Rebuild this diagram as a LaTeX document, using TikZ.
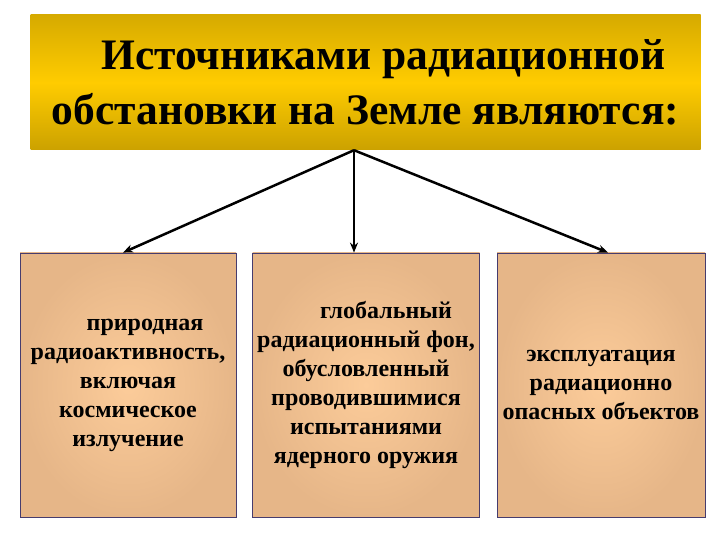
\documentclass[tikz,border=0pt]{standalone}
\usepackage{fontspec}
\setmainfont{Liberation Serif}
\usetikzlibrary{arrows.meta}

\definecolor{goldtop}{RGB}{214,170,0}
\definecolor{goldmid}{RGB}{255,204,0}
\definecolor{peachin}{RGB}{252,204,154}
\definecolor{peachout}{RGB}{230,182,136}
\definecolor{boxline}{RGB}{70,60,110}

\tikzset{
  titlebox/.style={rectangle, minimum width=670pt, minimum height=135pt, inner sep=0pt,
    top color=goldtop, bottom color=goldtop!95!black, middle color=goldmid,
    font=\fontsize{43.5}{55}\selectfont\bfseries, align=center},
  srcbox/.style={rectangle, draw=boxline, line width=0.8pt, inner sep=0pt,
    minimum height=264pt, shading=radial, inner color=peachin, outer color=peachout,
    font=\fontsize{24}{29}\selectfont\bfseries, align=center},
  arr/.style={-{Stealth[length=10pt,width=8pt]}, line width=2.5pt}
}

\begin{document}
\begin{tikzpicture}[x=1pt,y=1pt]
        \useasboundingbox[fill=white] (0,0) rectangle (720,540);

        \coordinate (T) at (365.5,457.5);
        \coordinate (L) at (128,155);
        \coordinate (M) at (366,155);
        \coordinate (R) at (601,155);

        \node[titlebox] (title) at (T) {\hspace*{36pt}Источниками радиационной\\обстановки на Земле являются:};

        \node[srcbox, minimum width=216pt] (left) at (L) {\hspace*{34pt}природная\\радиоактивность,\\включая\\космическое\\излучение};
        \node[srcbox, minimum width=227pt] (mid) at (M) {\hspace*{40pt}глобальный\\радиационный фон,\\обусловленный\\проводившимися\\испытаниями\\ядерного оружия};
        \node[srcbox, minimum width=208pt] (right) at (R) {эксплуатация\\радиационно\\опасных объектов};

        \coordinate (S) at ([xshift=-11.5pt]title.south);
        \draw[arr] (S) -- ([xshift=-5pt]left.north);
        \draw[arr] (S) -- ([xshift=-12pt]mid.north);
        \draw[arr] (S) -- ([xshift=7pt]right.north);
    \end{tikzpicture}
\end{document}
